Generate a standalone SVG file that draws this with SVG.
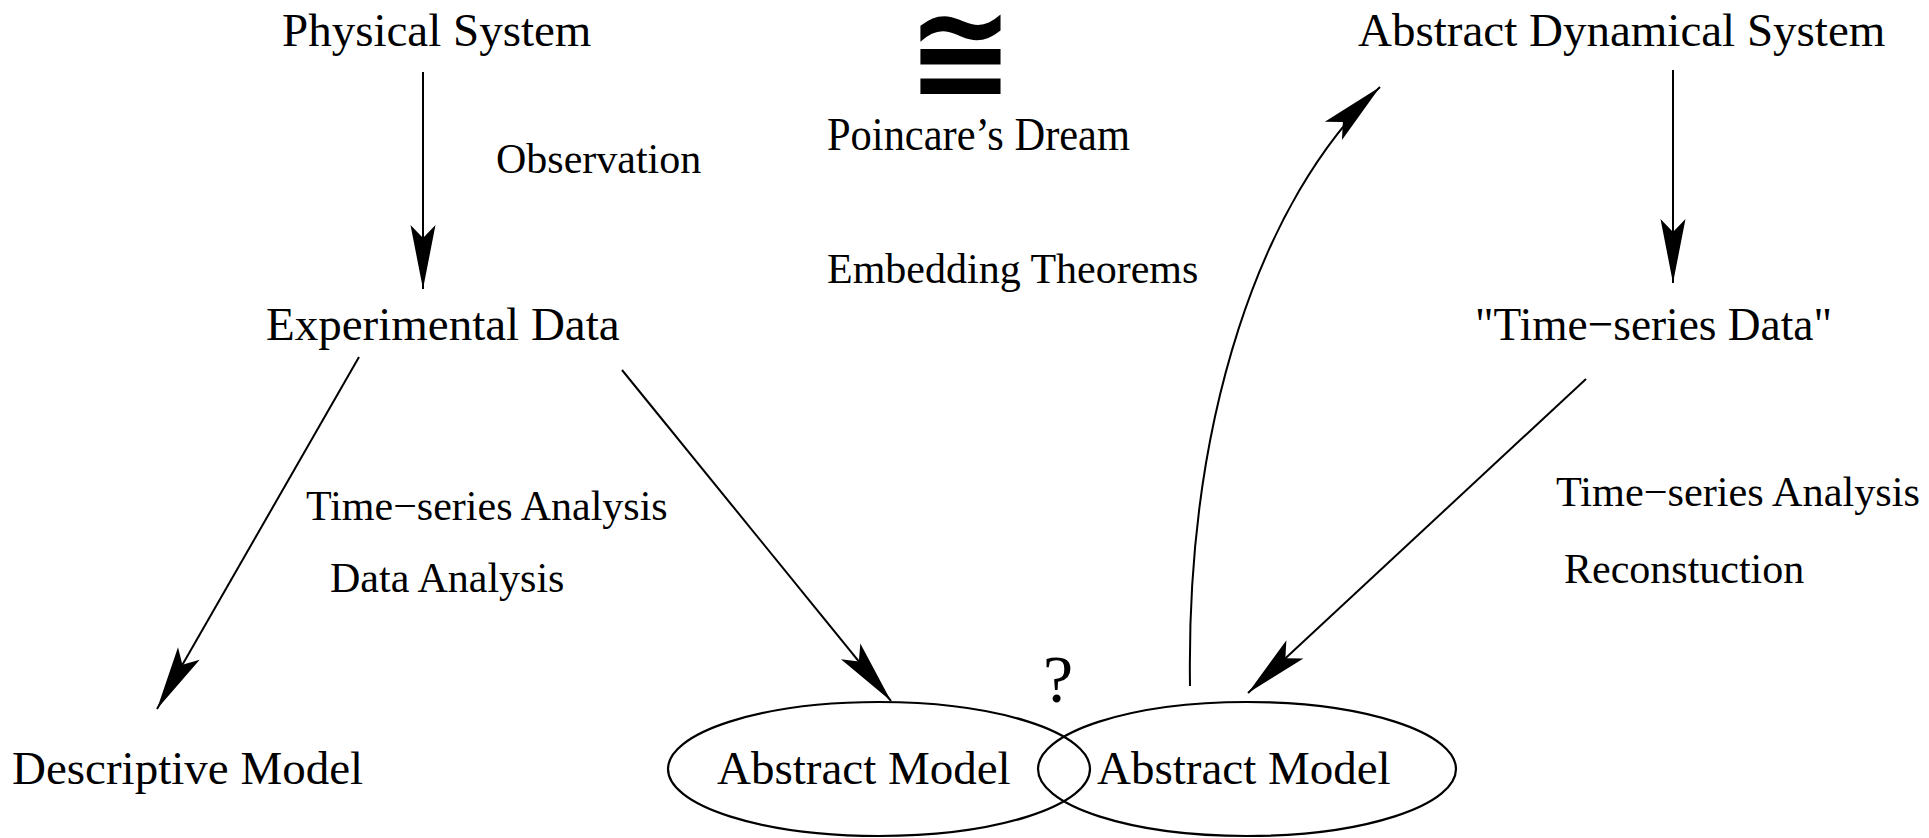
<svg xmlns="http://www.w3.org/2000/svg" width="1929" height="838" viewBox="0 0 1929 838">
<defs>
<style>
.big{font-family:"Liberation Serif","Times New Roman",serif;font-size:47px;fill:#000}
.lbl{font-family:"Liberation Serif","Times New Roman",serif;font-size:42px;fill:#000}
.edge{fill:none;stroke:#000;stroke-width:2}
.node-shape{fill:none;stroke:#000;stroke-width:2.2}
</style>
<marker id="arr" markerUnits="userSpaceOnUse" viewBox="-66 -14 68 28" markerWidth="68" markerHeight="28" refX="0" refY="0" orient="auto">
<path d="M0,0 L-64,-12.5 L-51,0 L-64,12.5 Z" fill="#000"/>
</marker>
</defs>
<rect width="1929" height="838" fill="#fff"/>

<g id="connectors">
<path class="edge" d="M423,72 L423,289" marker-end="url(#arr)"/>
<path class="edge" d="M1673,70 L1673,283" marker-end="url(#arr)"/>
<path class="edge" d="M359,357 L157,709" marker-end="url(#arr)"/>
<path class="edge" d="M622,370 L891,701" marker-end="url(#arr)"/>
<path class="edge" d="M1586,379 L1248,693" marker-end="url(#arr)"/>
<path class="edge" d="M1190,686 C1186,420 1260,200 1380,87" marker-end="url(#arr)"/>
</g>

<g id="physical-system"><text class="big" x="282" y="46">Physical System</text></g>
<g id="congruent"><text x="907" y="0" transform="translate(0,99) scale(1,1.05)" style="font-family:'DejaVu Sans',sans-serif;font-weight:bold;font-size:128px">≅</text></g>
<g id="abstract-dynamical-system"><text class="big" x="1358" y="46">Abstract Dynamical System</text></g>
<g id="observation"><text class="lbl" x="496" y="173">Observation</text></g>
<g id="poincare"><text class="lbl" x="827" y="150" textLength="303" lengthAdjust="spacingAndGlyphs" style="font-size:46px">Poincare’s Dream</text></g>
<g id="embedding"><text class="lbl" x="827" y="283">Embedding Theorems</text></g>
<g id="experimental-data"><text class="big" x="266" y="340">Experimental Data</text></g>
<g id="time-series-data"><text class="big" x="1475" y="340" textLength="357" lengthAdjust="spacingAndGlyphs">"Time−series Data"</text></g>
<g id="tsa-left"><text class="lbl" x="306" y="520">Time−series Analysis</text></g>
<g id="data-analysis"><text class="lbl" x="330" y="592">Data Analysis</text></g>
<g id="tsa-right"><text class="lbl" x="1556" y="506" textLength="364" lengthAdjust="spacingAndGlyphs">Time−series Analysis</text></g>
<g id="reconstuction"><text class="lbl" x="1564" y="583">Reconstuction</text></g>
<g id="question"><text x="1043" y="702" style="font-family:'Liberation Serif','Times New Roman',serif;font-size:68px">?</text></g>
<g id="descriptive-model"><text class="big" x="12" y="784">Descriptive Model</text></g>
<g id="abstract-model-left">
<ellipse class="node-shape" cx="879" cy="769" rx="211" ry="67"/>
<text class="big" x="717" y="784">Abstract Model</text>
</g>
<g id="abstract-model-right">
<ellipse class="node-shape" cx="1247" cy="769" rx="209" ry="67"/>
<text class="big" x="1097" y="784">Abstract Model</text>
</g>
</svg>
